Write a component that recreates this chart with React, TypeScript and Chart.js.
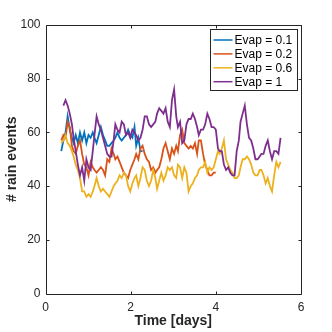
import React, { useEffect, useRef } from "react";
import { Chart, registerables } from "chart.js";

Chart.register(...registerables);

// Time axis (days)
const timeDays = [
  0.37, 0.42, 0.47, 0.52, 0.57, 0.62, 0.66, 0.71, 0.76, 0.81,
  0.86, 0.91, 0.96, 1.01, 1.06, 1.11, 1.15, 1.2, 1.25, 1.3,
  1.35, 1.4, 1.45, 1.5, 1.55, 1.6, 1.64, 1.69, 1.74, 1.79,
  1.84, 1.89, 1.94, 1.99, 2.04, 2.09, 2.13, 2.18, 2.23, 2.28,
  2.33, 2.38, 2.43, 2.48, 2.53, 2.58, 2.62, 2.67, 2.72, 2.77,
  2.82, 2.87, 2.92, 2.97, 3.02, 3.07, 3.11, 3.16, 3.21, 3.26,
  3.31, 3.36, 3.41, 3.46, 3.51, 3.56, 3.6, 3.65, 3.7, 3.75,
  3.8, 3.85, 3.9, 3.95, 4.0, 4.05, 4.09, 4.14, 4.19, 4.24,
  4.29, 4.34, 4.39, 4.44, 4.49, 4.54, 4.58, 4.63, 4.68, 4.73,
  4.78, 4.83, 4.88, 4.93, 4.98, 5.03, 5.07, 5.12, 5.17, 5.22,
  5.27, 5.32, 5.37, 5.42, 5.47, 5.52,
];

// # rain events per series
const evap01 = [
  53, 57, 60, 66, 61, 58, 56, 59, 56, 60,
  57, 60, 56, 59, 58, 60, 58, 56, 59, 62,
  59, 57, 55, 55, 56, 57, 58, 60, 58, 57,
  58, 59, 61, 59, 58, 62, 55, 58, 53, 53,
];

const evap02 = [
  57, 59, 58, 64, 62, 55, 53, 52, 55, 57,
  52, 48, 47, 44, 49, 47, 46, 45, 46, 47,
  46, 44, 50, 49, 54, 52, 50, 51, 49, 47,
  45, 44, 43, 46, 48, 50, 52, 50, 54, 55,
  52, 50, 49, 46, 47, 45, 46, 47, 50, 54,
  56, 53, 50, 54, 52, 55, 53, 59, 61, 56,
  55, 54, 55, 54, 56, 52, 57, 57, 52, 48,
  46, 44, 44, 45, 45,
];

const evap06 = [
  56, 57, 59, 56, 55, 53, 51, 48, 46, 43,
  38, 38, 36, 37, 36, 38, 40, 43, 40, 38,
  39, 38, 37, 36, 38, 40, 41, 42, 44, 43,
  45, 44, 40, 38, 41, 43, 44, 40, 43, 47,
  46, 42, 40, 42, 46, 43, 39, 42, 45, 42,
  44, 47, 46, 47, 44, 43, 48, 47, 43, 47,
  45, 38, 40, 41, 43, 44, 46, 47, 47, 49,
  45, 47, 46, 47, 50, 53, 52, 54, 57, 50,
  48, 46, 45, 43, 43, 44, 47, 50, 50, 51,
  50, 48, 45, 44, 44, 46, 46, 44, 41, 43,
  40, 38, 44, 49, 47, 49,
];

const evap1 = [
  null, 70, 72, 70, 67, 63, 58, 53, 48, 44,
  47, 42, 50, 47, 46, 53, 59, 66, 63, 61,
  58, 55, 52, 51, 51, 57, 63, 61, 60, 64,
  63, 59, 60, 58, 61, 60, 59, 57, 58, 61,
  66, 66, 63, 62, 63, 64, 67, 69, 68, 67,
  69, 64, 62, 72, 76, 66, 62, 64, 56, 57,
  63, 65, 65, 67, 65, 62, 59, 61, 61, 63,
  67, 65, 62, 62, 61, 54, 53, 53, 48, 46,
  47, 45, 44, 44, 53, 57, 64, 67, 70, 63,
  58, 57, 54, 50, 50, 51, 52, 52, 55, 57,
  53, 50, 53, 53, 52, 58,
];

const seriesLabels = ["Evap = 0.1", "Evap = 0.2", "Evap = 0.6", "Evap = 1"];
const seriesColors = ["#0072BD", "#D95319", "#EDB120", "#7E2F8E"];
const seriesValues = [evap01, evap02, evap06, evap1];

const xTickValues = [0, 2, 4, 6];
const yTickValues = [0, 20, 40, 60, 80, 100];

const FONT = "'Liberation Sans', Arial, Helvetica, sans-serif";
const AXIS_COLOR = "#262626";

function toPoints(values: (number | null)[]) {
  const pts: { x: number; y: number }[] = [];
  values.forEach((v, i) => {
    if (v !== null && v !== undefined) pts.push({ x: timeDays[i], y: v });
  });
  return pts;
}

const boxPlugin = {
  id: "matlabBox",
  beforeDatasetsDraw(chart: any) {
    const { ctx, chartArea, scales } = chart;
    const l = Math.round(chartArea.left) + 0.5;
    const r = Math.round(chartArea.right) + 0.5;
    const t = Math.round(chartArea.top) + 0.5;
    const b = Math.round(chartArea.bottom) + 0.5;
    ctx.save();
    ctx.strokeStyle = AXIS_COLOR;
    ctx.lineWidth = 1;
    ctx.beginPath();
    ctx.rect(l, t, r - l, b - t);
    const tl = 3;
    xTickValues.forEach((v) => {
      const px = Math.round(scales.x.getPixelForValue(v)) + 0.5;
      ctx.moveTo(px, b);
      ctx.lineTo(px, b - tl);
      ctx.moveTo(px, t);
      ctx.lineTo(px, t + tl);
    });
    yTickValues.forEach((v) => {
      const py = Math.round(scales.y.getPixelForValue(v)) + 0.5;
      ctx.moveTo(l, py);
      ctx.lineTo(l + tl, py);
      ctx.moveTo(r, py);
      ctx.lineTo(r - tl, py);
    });
    ctx.stroke();
    ctx.restore();
  },
};

const legendPlugin = {
  id: "boxLegend",
  afterDatasetsDraw(chart: any) {
    const { ctx, chartArea } = chart;
    const w = 87;
    const h = 61;
    const x0 = Math.round(chartArea.right - 4 - w) + 0.5;
    const y0 = Math.round(chartArea.top + 4) + 0.5;
    ctx.save();
    ctx.fillStyle = "#ffffff";
    ctx.fillRect(x0, y0, w, h);
    ctx.strokeStyle = "#262626";
    ctx.lineWidth = 1;
    ctx.strokeRect(x0, y0, w, h);
    ctx.font = `12px ${FONT}`;
    ctx.textBaseline = "middle";
    ctx.textAlign = "left";
    chart.data.datasets.forEach((ds: any, i: number) => {
      const cy = y0 + 10.5 + i * 13.9;
      ctx.strokeStyle = ds.borderColor;
      ctx.lineWidth = 1.5;
      ctx.beginPath();
      ctx.moveTo(x0 + 3, cy);
      ctx.lineTo(x0 + 22, cy);
      ctx.stroke();
      ctx.fillStyle = "#000000";
      ctx.fillText(ds.label, x0 + 24, cy + 0.5);
    });
    ctx.restore();
  },
};

export default function App() {
  const canvasRef = useRef<HTMLCanvasElement | null>(null);

  useEffect(() => {
    document.body.style.margin = "0";
    const canvas = canvasRef.current;
    if (!canvas) return;
    const chart = new Chart(canvas, {
      type: "line",
      data: {
        datasets: seriesValues.map((vals, i) => ({
          label: seriesLabels[i],
          data: toPoints(vals),
          borderColor: seriesColors[i],
          backgroundColor: seriesColors[i],
          borderWidth: 1.8,
          pointRadius: 0,
          tension: 0,
          fill: false,
          order: seriesValues.length - i,
        })),
      },
      options: {
        animation: false,
        responsive: false,
        devicePixelRatio: 1,
        layout: { padding: { top: 25, right: 31, left: 0, bottom: 0 } },
        plugins: {
          legend: { display: false },
          tooltip: { enabled: false },
        },
        scales: {
          x: {
            type: "linear",
            min: 0,
            max: 6,
            grid: { display: false, drawTicks: false },
            border: { display: false },
            ticks: {
              stepSize: 2,
              padding: 7,
              color: AXIS_COLOR,
              font: { family: FONT, size: 12 },
            },
            title: {
              display: true,
              text: "Time [days]",
              color: AXIS_COLOR,
              font: { family: FONT, size: 14, weight: "bold" },
              padding: { top: 0, bottom: 2 },
            },
            afterFit: (scale: any) => {
              scale.height = 38.5;
            },
          },
          y: {
            type: "linear",
            min: 0,
            max: 100,
            grid: { display: false, drawTicks: false },
            border: { display: false },
            ticks: {
              stepSize: 20,
              padding: 5,
              color: AXIS_COLOR,
              font: { family: FONT, size: 12 },
            },
            title: {
              display: true,
              text: "# rain events",
              color: AXIS_COLOR,
              font: { family: FONT, size: 14, weight: "bold" },
              padding: { top: 3.5, bottom: 0 },
            },
            afterFit: (scale: any) => {
              scale.width = 45.5;
            },
          },
        },
      } as any,
      plugins: [boxPlugin, legendPlugin],
    });
    return () => chart.destroy();
  }, []);

  return (
    <div style={{ width: 332, height: 332, background: "#ffffff" }}>
      <canvas ref={canvasRef} width={332} height={332} style={{ display: "block" }} />
    </div>
  );
}
